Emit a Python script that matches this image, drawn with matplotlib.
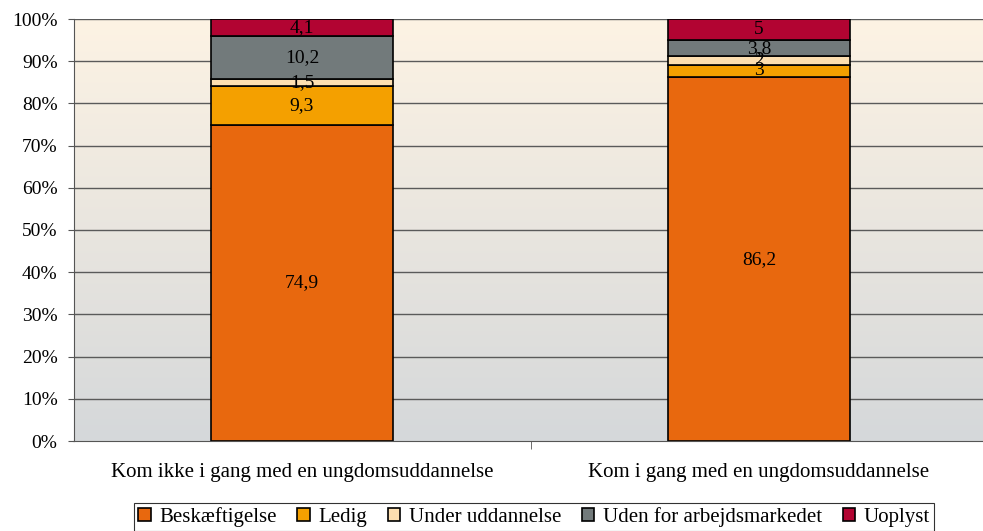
import numpy as np
import matplotlib
matplotlib.use('Agg')
import matplotlib.pyplot as plt

plt.rcParams['font.family'] = ['Liberation Serif', 'DejaVu Serif']

categories = ['Kom ikke i gang med en ungdomsuddannelse', 'Kom i gang med en ungdomsuddannelse']
series = ['Beskæftigelse', 'Ledig', 'Under uddannelse', 'Uden for arbejdsmarkedet', 'Uoplyst']
beskaeftigelse = [74.9, 86.2]
ledig = [9.3, 3]
under_uddannelse = [1.5, 2]
uden_for = [10.2, 3.8]
uoplyst = [4.1, 5]
labels = [['74,9', '86,2'], ['9,3', '3'], ['1,5', '2'], ['10,2', '3,8'], ['4,1', '5']]
colors = ['#E8680E', '#F4A000', '#FDDFB0', '#727A7B', '#B20432']

values = [beskaeftigelse, ledig, under_uddannelse, uden_for, uoplyst]

fig = plt.figure(figsize=(9.83, 5.31), dpi=100)
ax = fig.add_axes([73.5/983, 90/531, 914/983, 422/531])

x = np.arange(len(categories))
ax.set_xlim(-0.5, 1.5)
ax.set_ylim(0, 100)

# background gradient: cream at top, light grey at bottom
grad = np.linspace(0, 1, 256).reshape(-1, 1)
top = np.array([253, 243, 228]) / 255
bot = np.array([213, 216, 218]) / 255
img = top[None, None, :] * (1 - grad[:, :, None]) + bot[None, None, :] * grad[:, :, None]
ax.imshow(img, extent=[-0.5, 1.5, 0, 100], aspect='auto', origin='upper', zorder=0)

for yv in range(10, 101, 10):
    ax.axhline(yv, color='#5a5a5a', lw=1.0, zorder=1)

bottom = np.zeros(len(categories))
for name, vals, col, labs in zip(series, values, colors, labels):
    vals = np.array(vals, dtype=float)
    ax.bar(x, vals, 0.4, bottom=bottom, color=col, edgecolor='black', lw=1.2, label=name, zorder=2)
    for i in range(len(x)):
        ax.text(x[i], bottom[i] + vals[i] / 2, labs[i], ha='center', va='center', fontsize=14, zorder=3)
    bottom += vals

ax.set_yticks(range(0, 101, 10))
ax.set_yticklabels([f'{v}%' for v in range(0, 101, 10)], fontsize=14)
ax.set_xticks([0.5], minor=True)
ax.set_xticks(x)
ax.set_xticklabels(categories, fontsize=15)
ax.tick_params(axis='x', which='major', length=0, pad=16)
ax.tick_params(axis='x', which='minor', length=6, color='#555555')
ax.tick_params(axis='y', length=4.5, color='#555555', pad=7)
for s in ['top', 'right']:
    ax.spines[s].set_visible(False)
ax.spines['left'].set_color('#555555')
ax.spines['bottom'].set_color('#555555')

leg = fig.legend(loc='upper center', bbox_to_anchor=(534/983, 28/531), ncol=5, fontsize=15,
                 frameon=True, fancybox=False, edgecolor='black', handlelength=0.6, handleheight=0.6,
                 handletextpad=0.4, columnspacing=1.0, borderpad=0.2, borderaxespad=0)
leg.get_frame().set_linewidth(0.8)

fig.savefig('out.png', dpi=100)
